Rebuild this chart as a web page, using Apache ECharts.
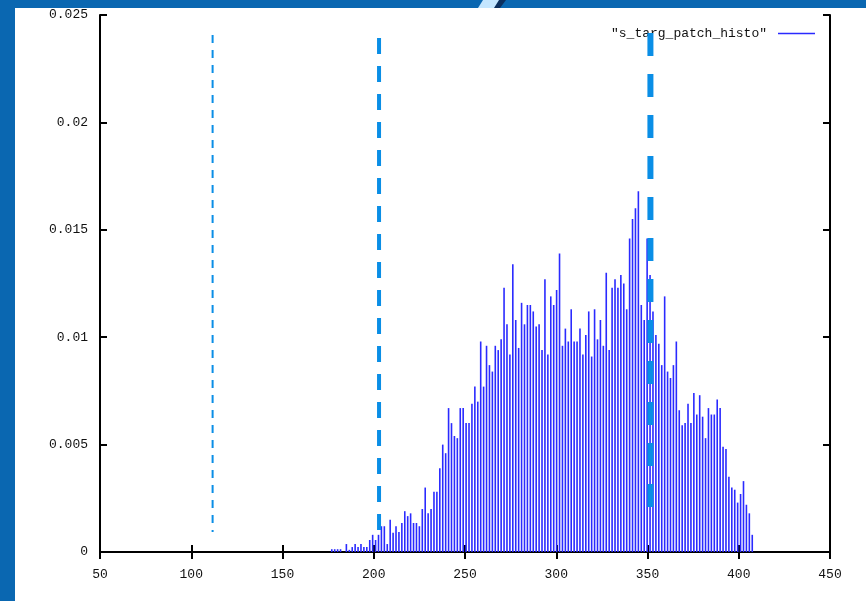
<!DOCTYPE html>
<html>
<head>
<meta charset="utf-8">
<script src="https://cdn.jsdelivr.net/npm/echarts@6/dist/echarts.min.js"></script>
<style>html,body{margin:0;padding:0;background:#fff}#c{width:866px;height:601px}</style>
</head>
<body>
<div id="c"></div>
<script>
// bin centres (x) of the histogram
var binX = [
177.0,178.6,180.2,181.8,183.4,185.0,186.6,188.2,189.8,191.4,
193.0,194.6,196.2,197.8,199.4,201.0,202.6,204.2,205.8,207.4,
209.0,210.6,212.2,213.8,215.4,217.0,218.6,220.2,221.8,223.4,
225.0,226.6,228.2,229.8,231.4,233.0,234.6,236.2,237.8,239.4,
241.0,242.6,244.2,245.8,247.4,249.0,250.6,252.2,253.8,255.4,
257.0,258.6,260.2,261.8,263.4,265.0,266.6,268.2,269.8,271.4,
273.0,274.6,276.2,277.8,279.4,281.0,282.6,284.2,285.8,287.4,
289.0,290.6,292.2,293.8,295.4,297.0,298.6,300.2,301.8,303.4,
305.0,306.6,308.2,309.8,311.4,313.0,314.6,316.2,317.8,319.4,
321.0,322.6,324.2,325.8,327.4,329.0,330.6,332.2,333.8,335.4,
337.0,338.6,340.2,341.8,343.4,345.0,346.6,348.2,349.8,351.4,
353.0,354.6,356.2,357.8,359.4,361.0,362.6,364.2,365.8,367.4,
369.0,370.6,372.2,373.8,375.4,377.0,378.6,380.2,381.8,383.4,
385.0,386.6,388.2,389.8,391.4,393.0,394.6,396.2,397.8,399.4,
401.0,402.6,404.2,405.8,407.4
];
// histogram frequencies
var binY = [
0.00013,0.00013,0.00013,0.00013,0,0.00037,0.0001,0.00023,0.00037,0.00023,
0.00037,0.00023,0.00023,0.00056,0.0008,0.00056,0.0008,0.0012,0.0012,0.00037,
0.0015,0.0009,0.0012,0.00093,
0.00135,0.0019,0.00167,0.0018,0.00135,0.00135,0.0012,0.0020,0.0030,0.0018,
0.0020,0.0028,0.0028,0.0039,0.0050,0.0046,0.0067,0.0060,0.0054,0.0053,
0.0067,0.0067,0.0060,0.0060,0.0069,
0.0077,0.0070,0.0098,0.0077,0.0096,0.0087,0.0084,0.0096,0.0094,0.0099,
0.0123,0.0106,0.0092,0.0134,0.0108,0.0095,0.0116,0.0106,0.0115,0.0115,
0.0112,0.0105,0.0106,0.0094,0.0127,
0.0092,0.0119,0.0115,0.0122,0.0139,0.0096,0.0104,0.0098,0.0113,0.0098,
0.0098,0.0104,0.0092,0.0101,0.0112,0.0091,0.0113,0.0099,0.0108,0.0096,
0.0130,0.0094,0.0123,0.0127,0.0123,
0.0129,0.0125,0.0113,0.0146,0.0155,0.0160,0.0168,0.0115,0.0108,0.0146,
0.0129,0.0112,0.0101,0.0097,0.0087,0.0119,0.0084,0.0081,0.0087,0.0098,
0.0066,0.0059,0.0060,0.0069,0.0060,0.0074,0.0064,0.0073,0.0063,0.0053,
0.0067,0.0064,0.0064,0.0071,0.0067,0.0049,0.0048,0.0035,0.0030,0.0029,
0.0023,0.0027,0.0033,0.0022,0.0018,0.0008
];
// vertical dashed marker lines: x position, y from, y to
var markerX = [111.7, 202.9, 351.6];
var markerYTop = [0.02407, 0.02393, 0.02416];
var markerYBottom = [0.00093, 0.00102, 0.00168];
var xTicks = {min: 50, max: 450, interval: 50};
var yTicks = {min: 0, max: 0.025, interval: 0.005};
var seriesName = '"s_targ_patch_histo"';

var histData = binX.map(function (x, i) { return [x, binY[i]]; });
var markerStyles = [
  {width: 2, type: [8, 7]},
  {width: 4, type: [16, 12]},
  {width: 6, type: [23, 18]}
];
var markerSeries = markerX.map(function (x, i) {
  return {
    type: 'line', silent: true, symbol: 'none', legendHoverLink: false,
    data: [[x, markerYTop[i]], [x, markerYBottom[i]]],
    lineStyle: {color: '#0a8ee6', width: markerStyles[i].width, type: markerStyles[i].type},
    z: 5
  };
});

var font = 'Liberation Mono';
var chart = echarts.init(document.getElementById('c'), null, {renderer: 'canvas'});
chart.setOption({
  animation: false,
  backgroundColor: '#ffffff',
  graphic: [
    {type: 'rect', shape: {x: 0, y: 0, width: 866, height: 8}, style: {fill: '#0a67b1'}, z: 100},
    {type: 'rect', shape: {x: 0, y: 0, width: 15, height: 601}, style: {fill: '#0a67b1'}, z: 100},
    {type: 'polygon', shape: {points: [[478, 8], [483, 0], [500, 0], [495, 8]]}, style: {fill: '#c4e6ff'}, z: 101},
    {type: 'polygon', shape: {points: [[494, 8], [499, 0], [506, 0], [500, 8]]}, style: {fill: '#0b2f5e'}, z: 101}
  ],
  grid: {left: 100, right: 36, top: 15, bottom: 49},
  legend: {
    right: 46, top: 22, align: 'right', icon: 'rect', itemWidth: 37, itemHeight: 1.5,
    itemGap: 10,
    data: [{name: seriesName, itemStyle: {color: '#2a2aff'}}],
    textStyle: {fontFamily: font, fontSize: 13, color: '#111', padding: [0, 6, 0, 0]}
  },
  xAxis: [
    {type: 'value', min: xTicks.min, max: xTicks.max, interval: xTicks.interval, position: 'bottom',
     axisLine: {lineStyle: {color: '#000', width: 2}},
     axisTick: {inside: true, length: 7, lineStyle: {color: '#000', width: 2}},
     axisLabel: {margin: 16, fontFamily: font, fontSize: 13, color: '#111'},
     splitLine: {show: false}},
    {type: 'value', min: xTicks.min, max: xTicks.max, interval: xTicks.interval, position: 'top',
     axisLine: {lineStyle: {color: '#000', width: 2}},
     axisTick: {inside: true, length: 7, lineStyle: {color: '#000', width: 2}},
     axisLabel: {show: false}, splitLine: {show: false}}
  ],
  yAxis: [
    {type: 'value', min: yTicks.min, max: yTicks.max, interval: yTicks.interval, position: 'left',
     axisLine: {show: true, lineStyle: {color: '#000', width: 2}},
     axisTick: {show: true, inside: true, length: 7, lineStyle: {color: '#000', width: 2}},
     axisLabel: {margin: 12, fontFamily: font, fontSize: 13, color: '#111'},
     splitLine: {show: false}},
    {type: 'value', min: yTicks.min, max: yTicks.max, interval: yTicks.interval, position: 'right',
     axisLine: {show: true, lineStyle: {color: '#000', width: 2}},
     axisTick: {show: true, inside: true, length: 7, lineStyle: {color: '#000', width: 2}},
     axisLabel: {show: false}, splitLine: {show: false}}
  ],
  series: [
    {name: seriesName, type: 'bar', data: histData, barWidth: 1.6, barGap: '0%',
     itemStyle: {color: '#2a2aff'}, z: 3, silent: true}
  ].concat(markerSeries)
});
</script>
</body>
</html>
